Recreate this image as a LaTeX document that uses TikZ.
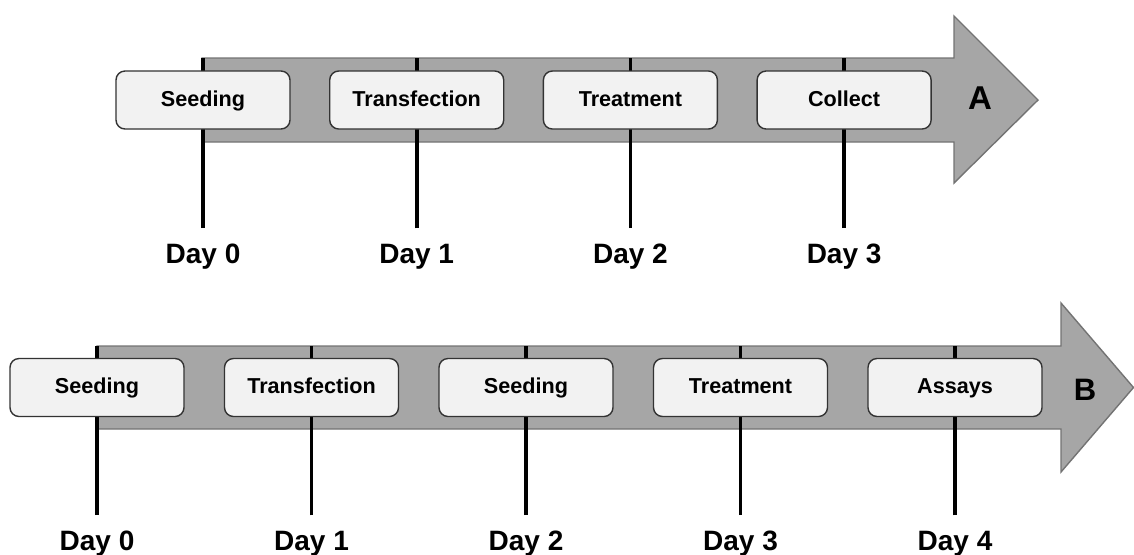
\documentclass[tikz,border=0pt]{standalone}
\usepackage{fontspec}
\setmainfont{Liberation Sans}
\begin{document}
\begin{tikzpicture}[x=0.5pt,y=-0.5pt,
                    freccia/.style={fill=black!35,draw=black!55,line width=0.7pt},
                    fase/.style={draw=black!80,fill=black!5,rounded corners=4.5pt,line width=0.7pt,
                      minimum width=87pt,minimum height=29pt,inner sep=0pt,
                      text height=0.85em,text depth=0.22em,
                      font=\fontsize{10.8}{13}\selectfont\bfseries},
                    giorno/.style={anchor=base,inner sep=0pt,font=\fontsize{14}{17}\selectfont\bfseries},
                    tacca/.style={line width=1.8pt,shorten <=7.5pt}]
  \useasboundingbox (0,0) rectangle (1134,554);
  % linea temporale A
  \draw[freccia] (202,58) -- (954,58) -- (954,16) -- (1038,100)
    -- (954,183) -- (954,142) -- (202,142) -- cycle;
  \foreach \i/\fase in {0/Seeding,1/Transfection,2/Treatment,3/Collect} {
    \coordinate (cA\i) at (203+213.7*\i,58);
    \node[giorno] (gA\i) at (203+213.7*\i,263) {Day \i};
    \draw[tacca] (gA\i) -- (cA\i);
    \node[fase] (fA\i) at (203+213.7*\i,100) {\fase};
  }
  \node[font=\fontsize{16.5}{20}\selectfont\bfseries] (etA) at (980,98) {A};
  % linea temporale B
  \draw[freccia] (97,346) -- (1061,346) -- (1061,303) -- (1133.5,387.5)
    -- (1061,472) -- (1061,429) -- (97,429) -- cycle;
  \foreach \i/\fase in {0/Seeding,1/Transfection,2/Seeding,3/Treatment,4/Assays} {
    \coordinate (cB\i) at (97+214.5*\i,346);
    \node[giorno] (gB\i) at (97+214.5*\i,550) {Day \i};
    \draw[tacca] (gB\i) -- (cB\i);
    \node[fase] (fB\i) at (97+214.5*\i,387.5) {\fase};
  }
  \node[font=\fontsize{15.5}{19}\selectfont\bfseries] (etB) at (1085,390) {B};
\end{tikzpicture}
\end{document}
